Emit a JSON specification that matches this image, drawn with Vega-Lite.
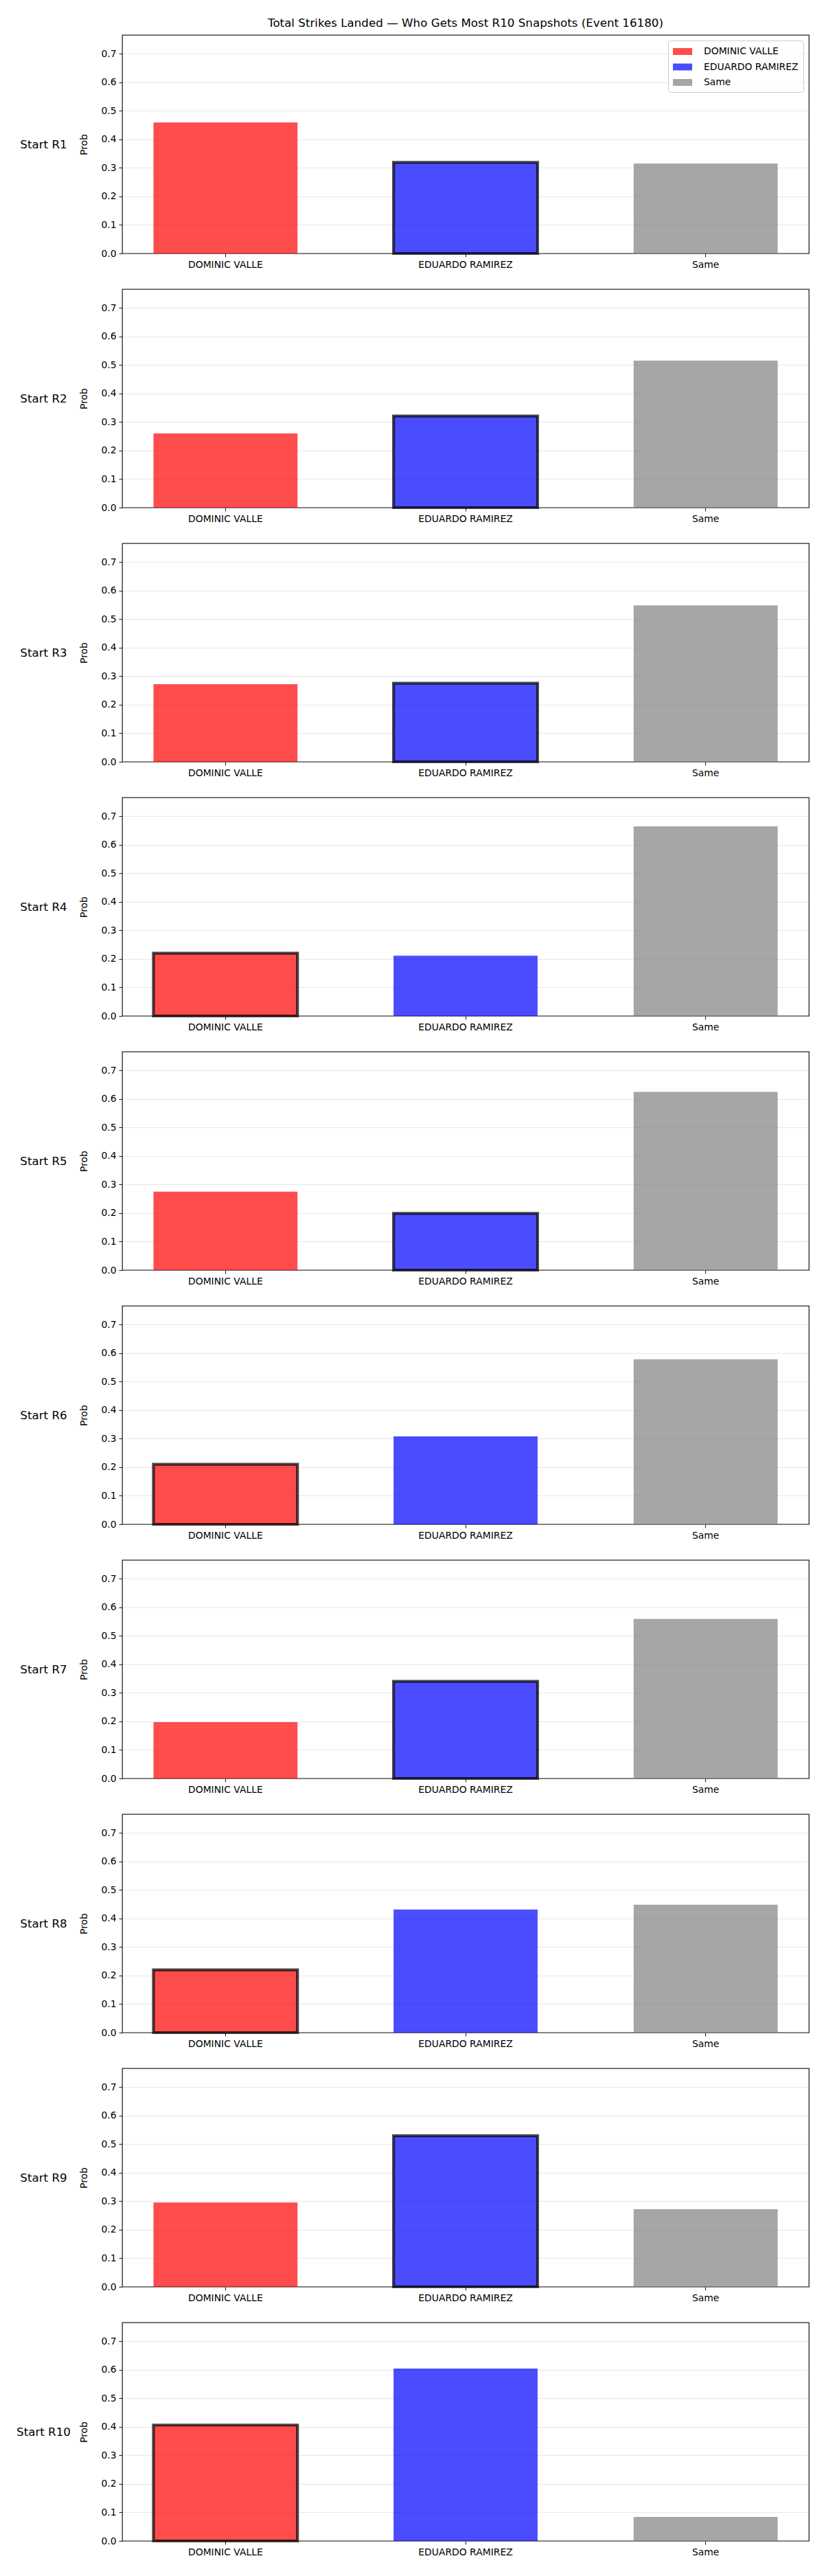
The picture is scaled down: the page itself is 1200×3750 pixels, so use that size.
{
  "$schema": "https://vega.github.io/schema/vega-lite/v6.json",
  "background": "white",
  "padding": {"left": 22, "top": 25, "right": 5, "bottom": 5},
  "data": {"values": [
    {"snap": "Start R1", "outcome": "DOMINIC VALLE", "prob": 0.459, "marked": false},
    {"snap": "Start R1", "outcome": "EDUARDO RAMIREZ", "prob": 0.319, "marked": true},
    {"snap": "Start R1", "outcome": "Same", "prob": 0.315, "marked": false},
    {"snap": "Start R2", "outcome": "DOMINIC VALLE", "prob": 0.260, "marked": false},
    {"snap": "Start R2", "outcome": "EDUARDO RAMIREZ", "prob": 0.321, "marked": true},
    {"snap": "Start R2", "outcome": "Same", "prob": 0.515, "marked": false},
    {"snap": "Start R3", "outcome": "DOMINIC VALLE", "prob": 0.272, "marked": false},
    {"snap": "Start R3", "outcome": "EDUARDO RAMIREZ", "prob": 0.275, "marked": true},
    {"snap": "Start R3", "outcome": "Same", "prob": 0.548, "marked": false},
    {"snap": "Start R4", "outcome": "DOMINIC VALLE", "prob": 0.220, "marked": true},
    {"snap": "Start R4", "outcome": "EDUARDO RAMIREZ", "prob": 0.211, "marked": false},
    {"snap": "Start R4", "outcome": "Same", "prob": 0.664, "marked": false},
    {"snap": "Start R5", "outcome": "DOMINIC VALLE", "prob": 0.275, "marked": false},
    {"snap": "Start R5", "outcome": "EDUARDO RAMIREZ", "prob": 0.199, "marked": true},
    {"snap": "Start R5", "outcome": "Same", "prob": 0.624, "marked": false},
    {"snap": "Start R6", "outcome": "DOMINIC VALLE", "prob": 0.210, "marked": true},
    {"snap": "Start R6", "outcome": "EDUARDO RAMIREZ", "prob": 0.308, "marked": false},
    {"snap": "Start R6", "outcome": "Same", "prob": 0.578, "marked": false},
    {"snap": "Start R7", "outcome": "DOMINIC VALLE", "prob": 0.197, "marked": false},
    {"snap": "Start R7", "outcome": "EDUARDO RAMIREZ", "prob": 0.340, "marked": true},
    {"snap": "Start R7", "outcome": "Same", "prob": 0.559, "marked": false},
    {"snap": "Start R8", "outcome": "DOMINIC VALLE", "prob": 0.220, "marked": true},
    {"snap": "Start R8", "outcome": "EDUARDO RAMIREZ", "prob": 0.431, "marked": false},
    {"snap": "Start R8", "outcome": "Same", "prob": 0.448, "marked": false},
    {"snap": "Start R9", "outcome": "DOMINIC VALLE", "prob": 0.295, "marked": false},
    {"snap": "Start R9", "outcome": "EDUARDO RAMIREZ", "prob": 0.529, "marked": true},
    {"snap": "Start R9", "outcome": "Same", "prob": 0.272, "marked": false},
    {"snap": "Start R10", "outcome": "DOMINIC VALLE", "prob": 0.406, "marked": true},
    {"snap": "Start R10", "outcome": "EDUARDO RAMIREZ", "prob": 0.604, "marked": false},
    {"snap": "Start R10", "outcome": "Same", "prob": 0.084, "marked": false}
  ]},
  "spacing": 27,
  "resolve": {"scale": {"fill": "independent"}, "legend": {"fill": "independent"}},
  "vconcat": [
    {
      "title": {"text": "Total Strikes Landed — Who Gets Most R10 Snapshots (Event 16180)", "fontSize": 16.7, "fontWeight": "normal", "font": "DejaVu Sans", "color": "black", "offset": 8, "anchor": "middle", "frame": "group"},
      "transform": [{"filter": "datum.snap === 'Start R1'"}],
      "width": 1000, "height": 318,
      "layer": [
        {"mark": {"type": "bar", "fillOpacity": 0.7, "strokeOpacity": 0.7, "strokeWidth": 4.2},
         "encoding": {
          "x": {"field": "outcome", "type": "nominal", "sort": ["DOMINIC VALLE", "EDUARDO RAMIREZ", "Same"], "scale": {"paddingInner": 0.4, "paddingOuter": 0.13}, "axis": {"title": null, "labelAngle": 0, "grid": false, "labelPadding": 4}},
          "y": {"field": "prob", "type": "quantitative", "scale": {"domain": [0, 0.765], "nice": false}, "axis": {"title": "Prob", "values": [0, 0.1, 0.2, 0.3, 0.4, 0.5, 0.6, 0.7], "format": ".1f", "grid": true, "gridColor": "#b0b0b0", "gridOpacity": 0.3, "gridWidth": 1.1, "titlePadding": 17, "labelPadding": 4}},
          "fill": {"field": "outcome", "type": "nominal",
            "scale": {"domain": ["DOMINIC VALLE", "EDUARDO RAMIREZ", "Same"], "range": ["#ff0000", "#0000ff", "#808080"]},
            "legend": {
              "title": null, "orient": "top-right", "offset": 8,
              "symbolType": "M-1.75,-0.625H1.75V0.625H-1.75Z", "symbolSize": 256, "symbolOpacity": 0.7, "symbolOffset": 5,
              "labelFontSize": 13.9, "labelFont": "DejaVu Sans", "labelColor": "black", "labelOffset": 22, "rowPadding": 6.5, "labelLimit": 300,
              "padding": 7, "strokeColor": "#cccccc", "fillColor": "rgba(255,255,255,0.8)", "cornerRadius": 3,
              "encode": {"symbols": {"update": {"stroke": {"signal": "datum.label === 'EDUARDO RAMIREZ' ? 'black' : 'transparent'"}, "strokeWidth": {"value": 3}}}}
            }},
          "stroke": {"condition": {"test": "datum.marked", "value": "black"}, "value": null}
        }},
        {"mark": {"type": "bar", "opacity": 0},
         "encoding": {
          "x": {"field": "outcome", "type": "nominal", "sort": ["DOMINIC VALLE", "EDUARDO RAMIREZ", "Same"]},
          "y": {"field": "prob", "type": "quantitative", "scale": {"domain": [0, 0.765], "nice": false}, "axis": {"orient": "left", "title": "Start R1", "labels": false, "ticks": false, "domain": false, "grid": false, "offset": 115, "minExtent": 0, "titlePadding": 0, "titleAngle": 0, "titleAlign": "center", "titleBaseline": "middle", "titleFontSize": 16.7}}
        }}
      ],
      "resolve": {"scale": {"y": "independent"}}
    },
    {
      "transform": [{"filter": "datum.snap === 'Start R2'"}],
      "width": 1000, "height": 318,
      "layer": [
        {"mark": {"type": "bar", "fillOpacity": 0.7, "strokeOpacity": 0.7, "strokeWidth": 4.2},
         "encoding": {
          "x": {"field": "outcome", "type": "nominal", "sort": ["DOMINIC VALLE", "EDUARDO RAMIREZ", "Same"], "scale": {"paddingInner": 0.4, "paddingOuter": 0.13}, "axis": {"title": null, "labelAngle": 0, "grid": false, "labelPadding": 4}},
          "y": {"field": "prob", "type": "quantitative", "scale": {"domain": [0, 0.765], "nice": false}, "axis": {"title": "Prob", "values": [0, 0.1, 0.2, 0.3, 0.4, 0.5, 0.6, 0.7], "format": ".1f", "grid": true, "gridColor": "#b0b0b0", "gridOpacity": 0.3, "gridWidth": 1.1, "titlePadding": 17, "labelPadding": 4}},
          "fill": {"field": "outcome", "type": "nominal", "scale": {"domain": ["DOMINIC VALLE", "EDUARDO RAMIREZ", "Same"], "range": ["#ff0000", "#0000ff", "#808080"]}, "legend": null},
          "stroke": {"condition": {"test": "datum.marked", "value": "black"}, "value": null}
        }},
        {"mark": {"type": "bar", "opacity": 0},
         "encoding": {
          "x": {"field": "outcome", "type": "nominal", "sort": ["DOMINIC VALLE", "EDUARDO RAMIREZ", "Same"]},
          "y": {"field": "prob", "type": "quantitative", "scale": {"domain": [0, 0.765], "nice": false}, "axis": {"orient": "left", "title": "Start R2", "labels": false, "ticks": false, "domain": false, "grid": false, "offset": 115, "minExtent": 0, "titlePadding": 0, "titleAngle": 0, "titleAlign": "center", "titleBaseline": "middle", "titleFontSize": 16.7}}
        }}
      ],
      "resolve": {"scale": {"y": "independent"}}
    },
    {
      "transform": [{"filter": "datum.snap === 'Start R3'"}],
      "width": 1000, "height": 318,
      "layer": [
        {"mark": {"type": "bar", "fillOpacity": 0.7, "strokeOpacity": 0.7, "strokeWidth": 4.2},
         "encoding": {
          "x": {"field": "outcome", "type": "nominal", "sort": ["DOMINIC VALLE", "EDUARDO RAMIREZ", "Same"], "scale": {"paddingInner": 0.4, "paddingOuter": 0.13}, "axis": {"title": null, "labelAngle": 0, "grid": false, "labelPadding": 4}},
          "y": {"field": "prob", "type": "quantitative", "scale": {"domain": [0, 0.765], "nice": false}, "axis": {"title": "Prob", "values": [0, 0.1, 0.2, 0.3, 0.4, 0.5, 0.6, 0.7], "format": ".1f", "grid": true, "gridColor": "#b0b0b0", "gridOpacity": 0.3, "gridWidth": 1.1, "titlePadding": 17, "labelPadding": 4}},
          "fill": {"field": "outcome", "type": "nominal", "scale": {"domain": ["DOMINIC VALLE", "EDUARDO RAMIREZ", "Same"], "range": ["#ff0000", "#0000ff", "#808080"]}, "legend": null},
          "stroke": {"condition": {"test": "datum.marked", "value": "black"}, "value": null}
        }},
        {"mark": {"type": "bar", "opacity": 0},
         "encoding": {
          "x": {"field": "outcome", "type": "nominal", "sort": ["DOMINIC VALLE", "EDUARDO RAMIREZ", "Same"]},
          "y": {"field": "prob", "type": "quantitative", "scale": {"domain": [0, 0.765], "nice": false}, "axis": {"orient": "left", "title": "Start R3", "labels": false, "ticks": false, "domain": false, "grid": false, "offset": 115, "minExtent": 0, "titlePadding": 0, "titleAngle": 0, "titleAlign": "center", "titleBaseline": "middle", "titleFontSize": 16.7}}
        }}
      ],
      "resolve": {"scale": {"y": "independent"}}
    },
    {
      "transform": [{"filter": "datum.snap === 'Start R4'"}],
      "width": 1000, "height": 318,
      "layer": [
        {"mark": {"type": "bar", "fillOpacity": 0.7, "strokeOpacity": 0.7, "strokeWidth": 4.2},
         "encoding": {
          "x": {"field": "outcome", "type": "nominal", "sort": ["DOMINIC VALLE", "EDUARDO RAMIREZ", "Same"], "scale": {"paddingInner": 0.4, "paddingOuter": 0.13}, "axis": {"title": null, "labelAngle": 0, "grid": false, "labelPadding": 4}},
          "y": {"field": "prob", "type": "quantitative", "scale": {"domain": [0, 0.765], "nice": false}, "axis": {"title": "Prob", "values": [0, 0.1, 0.2, 0.3, 0.4, 0.5, 0.6, 0.7], "format": ".1f", "grid": true, "gridColor": "#b0b0b0", "gridOpacity": 0.3, "gridWidth": 1.1, "titlePadding": 17, "labelPadding": 4}},
          "fill": {"field": "outcome", "type": "nominal", "scale": {"domain": ["DOMINIC VALLE", "EDUARDO RAMIREZ", "Same"], "range": ["#ff0000", "#0000ff", "#808080"]}, "legend": null},
          "stroke": {"condition": {"test": "datum.marked", "value": "black"}, "value": null}
        }},
        {"mark": {"type": "bar", "opacity": 0},
         "encoding": {
          "x": {"field": "outcome", "type": "nominal", "sort": ["DOMINIC VALLE", "EDUARDO RAMIREZ", "Same"]},
          "y": {"field": "prob", "type": "quantitative", "scale": {"domain": [0, 0.765], "nice": false}, "axis": {"orient": "left", "title": "Start R4", "labels": false, "ticks": false, "domain": false, "grid": false, "offset": 115, "minExtent": 0, "titlePadding": 0, "titleAngle": 0, "titleAlign": "center", "titleBaseline": "middle", "titleFontSize": 16.7}}
        }}
      ],
      "resolve": {"scale": {"y": "independent"}}
    },
    {
      "transform": [{"filter": "datum.snap === 'Start R5'"}],
      "width": 1000, "height": 318,
      "layer": [
        {"mark": {"type": "bar", "fillOpacity": 0.7, "strokeOpacity": 0.7, "strokeWidth": 4.2},
         "encoding": {
          "x": {"field": "outcome", "type": "nominal", "sort": ["DOMINIC VALLE", "EDUARDO RAMIREZ", "Same"], "scale": {"paddingInner": 0.4, "paddingOuter": 0.13}, "axis": {"title": null, "labelAngle": 0, "grid": false, "labelPadding": 4}},
          "y": {"field": "prob", "type": "quantitative", "scale": {"domain": [0, 0.765], "nice": false}, "axis": {"title": "Prob", "values": [0, 0.1, 0.2, 0.3, 0.4, 0.5, 0.6, 0.7], "format": ".1f", "grid": true, "gridColor": "#b0b0b0", "gridOpacity": 0.3, "gridWidth": 1.1, "titlePadding": 17, "labelPadding": 4}},
          "fill": {"field": "outcome", "type": "nominal", "scale": {"domain": ["DOMINIC VALLE", "EDUARDO RAMIREZ", "Same"], "range": ["#ff0000", "#0000ff", "#808080"]}, "legend": null},
          "stroke": {"condition": {"test": "datum.marked", "value": "black"}, "value": null}
        }},
        {"mark": {"type": "bar", "opacity": 0},
         "encoding": {
          "x": {"field": "outcome", "type": "nominal", "sort": ["DOMINIC VALLE", "EDUARDO RAMIREZ", "Same"]},
          "y": {"field": "prob", "type": "quantitative", "scale": {"domain": [0, 0.765], "nice": false}, "axis": {"orient": "left", "title": "Start R5", "labels": false, "ticks": false, "domain": false, "grid": false, "offset": 115, "minExtent": 0, "titlePadding": 0, "titleAngle": 0, "titleAlign": "center", "titleBaseline": "middle", "titleFontSize": 16.7}}
        }}
      ],
      "resolve": {"scale": {"y": "independent"}}
    },
    {
      "transform": [{"filter": "datum.snap === 'Start R6'"}],
      "width": 1000, "height": 318,
      "layer": [
        {"mark": {"type": "bar", "fillOpacity": 0.7, "strokeOpacity": 0.7, "strokeWidth": 4.2},
         "encoding": {
          "x": {"field": "outcome", "type": "nominal", "sort": ["DOMINIC VALLE", "EDUARDO RAMIREZ", "Same"], "scale": {"paddingInner": 0.4, "paddingOuter": 0.13}, "axis": {"title": null, "labelAngle": 0, "grid": false, "labelPadding": 4}},
          "y": {"field": "prob", "type": "quantitative", "scale": {"domain": [0, 0.765], "nice": false}, "axis": {"title": "Prob", "values": [0, 0.1, 0.2, 0.3, 0.4, 0.5, 0.6, 0.7], "format": ".1f", "grid": true, "gridColor": "#b0b0b0", "gridOpacity": 0.3, "gridWidth": 1.1, "titlePadding": 17, "labelPadding": 4}},
          "fill": {"field": "outcome", "type": "nominal", "scale": {"domain": ["DOMINIC VALLE", "EDUARDO RAMIREZ", "Same"], "range": ["#ff0000", "#0000ff", "#808080"]}, "legend": null},
          "stroke": {"condition": {"test": "datum.marked", "value": "black"}, "value": null}
        }},
        {"mark": {"type": "bar", "opacity": 0},
         "encoding": {
          "x": {"field": "outcome", "type": "nominal", "sort": ["DOMINIC VALLE", "EDUARDO RAMIREZ", "Same"]},
          "y": {"field": "prob", "type": "quantitative", "scale": {"domain": [0, 0.765], "nice": false}, "axis": {"orient": "left", "title": "Start R6", "labels": false, "ticks": false, "domain": false, "grid": false, "offset": 115, "minExtent": 0, "titlePadding": 0, "titleAngle": 0, "titleAlign": "center", "titleBaseline": "middle", "titleFontSize": 16.7}}
        }}
      ],
      "resolve": {"scale": {"y": "independent"}}
    },
    {
      "transform": [{"filter": "datum.snap === 'Start R7'"}],
      "width": 1000, "height": 318,
      "layer": [
        {"mark": {"type": "bar", "fillOpacity": 0.7, "strokeOpacity": 0.7, "strokeWidth": 4.2},
         "encoding": {
          "x": {"field": "outcome", "type": "nominal", "sort": ["DOMINIC VALLE", "EDUARDO RAMIREZ", "Same"], "scale": {"paddingInner": 0.4, "paddingOuter": 0.13}, "axis": {"title": null, "labelAngle": 0, "grid": false, "labelPadding": 4}},
          "y": {"field": "prob", "type": "quantitative", "scale": {"domain": [0, 0.765], "nice": false}, "axis": {"title": "Prob", "values": [0, 0.1, 0.2, 0.3, 0.4, 0.5, 0.6, 0.7], "format": ".1f", "grid": true, "gridColor": "#b0b0b0", "gridOpacity": 0.3, "gridWidth": 1.1, "titlePadding": 17, "labelPadding": 4}},
          "fill": {"field": "outcome", "type": "nominal", "scale": {"domain": ["DOMINIC VALLE", "EDUARDO RAMIREZ", "Same"], "range": ["#ff0000", "#0000ff", "#808080"]}, "legend": null},
          "stroke": {"condition": {"test": "datum.marked", "value": "black"}, "value": null}
        }},
        {"mark": {"type": "bar", "opacity": 0},
         "encoding": {
          "x": {"field": "outcome", "type": "nominal", "sort": ["DOMINIC VALLE", "EDUARDO RAMIREZ", "Same"]},
          "y": {"field": "prob", "type": "quantitative", "scale": {"domain": [0, 0.765], "nice": false}, "axis": {"orient": "left", "title": "Start R7", "labels": false, "ticks": false, "domain": false, "grid": false, "offset": 115, "minExtent": 0, "titlePadding": 0, "titleAngle": 0, "titleAlign": "center", "titleBaseline": "middle", "titleFontSize": 16.7}}
        }}
      ],
      "resolve": {"scale": {"y": "independent"}}
    },
    {
      "transform": [{"filter": "datum.snap === 'Start R8'"}],
      "width": 1000, "height": 318,
      "layer": [
        {"mark": {"type": "bar", "fillOpacity": 0.7, "strokeOpacity": 0.7, "strokeWidth": 4.2},
         "encoding": {
          "x": {"field": "outcome", "type": "nominal", "sort": ["DOMINIC VALLE", "EDUARDO RAMIREZ", "Same"], "scale": {"paddingInner": 0.4, "paddingOuter": 0.13}, "axis": {"title": null, "labelAngle": 0, "grid": false, "labelPadding": 4}},
          "y": {"field": "prob", "type": "quantitative", "scale": {"domain": [0, 0.765], "nice": false}, "axis": {"title": "Prob", "values": [0, 0.1, 0.2, 0.3, 0.4, 0.5, 0.6, 0.7], "format": ".1f", "grid": true, "gridColor": "#b0b0b0", "gridOpacity": 0.3, "gridWidth": 1.1, "titlePadding": 17, "labelPadding": 4}},
          "fill": {"field": "outcome", "type": "nominal", "scale": {"domain": ["DOMINIC VALLE", "EDUARDO RAMIREZ", "Same"], "range": ["#ff0000", "#0000ff", "#808080"]}, "legend": null},
          "stroke": {"condition": {"test": "datum.marked", "value": "black"}, "value": null}
        }},
        {"mark": {"type": "bar", "opacity": 0},
         "encoding": {
          "x": {"field": "outcome", "type": "nominal", "sort": ["DOMINIC VALLE", "EDUARDO RAMIREZ", "Same"]},
          "y": {"field": "prob", "type": "quantitative", "scale": {"domain": [0, 0.765], "nice": false}, "axis": {"orient": "left", "title": "Start R8", "labels": false, "ticks": false, "domain": false, "grid": false, "offset": 115, "minExtent": 0, "titlePadding": 0, "titleAngle": 0, "titleAlign": "center", "titleBaseline": "middle", "titleFontSize": 16.7}}
        }}
      ],
      "resolve": {"scale": {"y": "independent"}}
    },
    {
      "transform": [{"filter": "datum.snap === 'Start R9'"}],
      "width": 1000, "height": 318,
      "layer": [
        {"mark": {"type": "bar", "fillOpacity": 0.7, "strokeOpacity": 0.7, "strokeWidth": 4.2},
         "encoding": {
          "x": {"field": "outcome", "type": "nominal", "sort": ["DOMINIC VALLE", "EDUARDO RAMIREZ", "Same"], "scale": {"paddingInner": 0.4, "paddingOuter": 0.13}, "axis": {"title": null, "labelAngle": 0, "grid": false, "labelPadding": 4}},
          "y": {"field": "prob", "type": "quantitative", "scale": {"domain": [0, 0.765], "nice": false}, "axis": {"title": "Prob", "values": [0, 0.1, 0.2, 0.3, 0.4, 0.5, 0.6, 0.7], "format": ".1f", "grid": true, "gridColor": "#b0b0b0", "gridOpacity": 0.3, "gridWidth": 1.1, "titlePadding": 17, "labelPadding": 4}},
          "fill": {"field": "outcome", "type": "nominal", "scale": {"domain": ["DOMINIC VALLE", "EDUARDO RAMIREZ", "Same"], "range": ["#ff0000", "#0000ff", "#808080"]}, "legend": null},
          "stroke": {"condition": {"test": "datum.marked", "value": "black"}, "value": null}
        }},
        {"mark": {"type": "bar", "opacity": 0},
         "encoding": {
          "x": {"field": "outcome", "type": "nominal", "sort": ["DOMINIC VALLE", "EDUARDO RAMIREZ", "Same"]},
          "y": {"field": "prob", "type": "quantitative", "scale": {"domain": [0, 0.765], "nice": false}, "axis": {"orient": "left", "title": "Start R9", "labels": false, "ticks": false, "domain": false, "grid": false, "offset": 115, "minExtent": 0, "titlePadding": 0, "titleAngle": 0, "titleAlign": "center", "titleBaseline": "middle", "titleFontSize": 16.7}}
        }}
      ],
      "resolve": {"scale": {"y": "independent"}}
    },
    {
      "transform": [{"filter": "datum.snap === 'Start R10'"}],
      "width": 1000, "height": 318,
      "layer": [
        {"mark": {"type": "bar", "fillOpacity": 0.7, "strokeOpacity": 0.7, "strokeWidth": 4.2},
         "encoding": {
          "x": {"field": "outcome", "type": "nominal", "sort": ["DOMINIC VALLE", "EDUARDO RAMIREZ", "Same"], "scale": {"paddingInner": 0.4, "paddingOuter": 0.13}, "axis": {"title": null, "labelAngle": 0, "grid": false, "labelPadding": 4}},
          "y": {"field": "prob", "type": "quantitative", "scale": {"domain": [0, 0.765], "nice": false}, "axis": {"title": "Prob", "values": [0, 0.1, 0.2, 0.3, 0.4, 0.5, 0.6, 0.7], "format": ".1f", "grid": true, "gridColor": "#b0b0b0", "gridOpacity": 0.3, "gridWidth": 1.1, "titlePadding": 17, "labelPadding": 4}},
          "fill": {"field": "outcome", "type": "nominal", "scale": {"domain": ["DOMINIC VALLE", "EDUARDO RAMIREZ", "Same"], "range": ["#ff0000", "#0000ff", "#808080"]}, "legend": null},
          "stroke": {"condition": {"test": "datum.marked", "value": "black"}, "value": null}
        }},
        {"mark": {"type": "bar", "opacity": 0},
         "encoding": {
          "x": {"field": "outcome", "type": "nominal", "sort": ["DOMINIC VALLE", "EDUARDO RAMIREZ", "Same"]},
          "y": {"field": "prob", "type": "quantitative", "scale": {"domain": [0, 0.765], "nice": false}, "axis": {"orient": "left", "title": "Start R10", "labels": false, "ticks": false, "domain": false, "grid": false, "offset": 115, "minExtent": 0, "titlePadding": 0, "titleAngle": 0, "titleAlign": "center", "titleBaseline": "middle", "titleFontSize": 16.7}}
        }}
      ],
      "resolve": {"scale": {"y": "independent"}}
    }
  ],
  "config": {
    "font": "DejaVu Sans",
    "view": {"stroke": "#262626", "strokeWidth": 1.3},
    "axis": {"domain": false, "labelFontSize": 13.9, "labelColor": "black", "tickColor": "#262626", "tickSize": 5, "tickWidth": 1.1, "titleFontSize": 13.9, "titleFontWeight": "normal", "titleColor": "black", "labelFont": "DejaVu Sans", "titleFont": "DejaVu Sans"}
  }
}
